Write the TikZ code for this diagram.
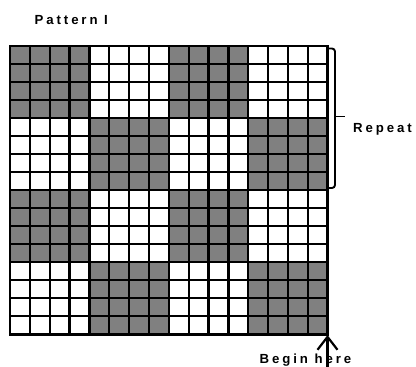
\documentclass[tikz,border=0pt]{standalone}
\usepackage{fontspec}
\usetikzlibrary{arrows.meta}
\newfontfamily\lblfont[LetterSpace=22]{Liberation Sans Bold}
\definecolor{cellgray}{HTML}{808080}
\begin{document}
\begin{tikzpicture}[x=1pt,y=-1pt,
  lbl/.style={font=\lblfont\fontsize{13.2}{15}\selectfont, inner sep=0pt, anchor=base west},
  gridline/.style={line width=2.3pt, black},
  bracket/.style={line width=1.9pt, black, rounded corners=3pt},
  startarrow/.style={line width=2.2pt, black, -{Straight Barb[length=13pt,width=20pt,line width=2.2pt]}}]
\useasboundingbox (0,0) rectangle (416,367);
\def\cw{19.86}
\def\ch{18.02}
% cells
\foreach \r in {0,...,15}{
  \foreach \c in {0,...,15}{
    \pgfmathtruncatemacro\g{mod(int(\r/4)+int(\c/4),2)}
    \ifnum\g=0
      \fill[cellgray] (10+\c*\cw,46+\r*\ch) rectangle ++(\cw,\ch);
    \fi
  }
}
% grid lines
\foreach \c in {0,...,16}{
  \draw[gridline] (10+\c*\cw,46) -- (10+\c*\cw,334.32);
}
\foreach \r in {0,...,16}{
  \draw[gridline] (10,46+\r*\ch) -- (327.76,46+\r*\ch);
}
\draw[line width=2.6pt] (10,46) rectangle (327.76,334.32);
% labels
\node[lbl] (pat) at (34.5,24) {Pattern I};
\node[lbl] (rep) at (353,132.7) {Repeat};
\node[lbl] (beg) at (259.5,363.8) {Begin here};
% bracket
\coordinate (b1) at (329,48.5);
\coordinate (b2) at (335,48.5);
\coordinate (b3) at (335,188);
\coordinate (b4) at (329,188);
\coordinate (bm) at (335,116.5);
\coordinate (bt) at (345,116.5);
\draw[bracket] (b1) -- (b2) -- (b3) -- (b4);
\draw[line width=1.9pt] (bm) -- (bt);
% arrow
\coordinate (corner) at (327.5,335);
\coordinate (tail) at (327.5,370);
\draw[startarrow] (tail) -- (corner);
\end{tikzpicture}
\end{document}
